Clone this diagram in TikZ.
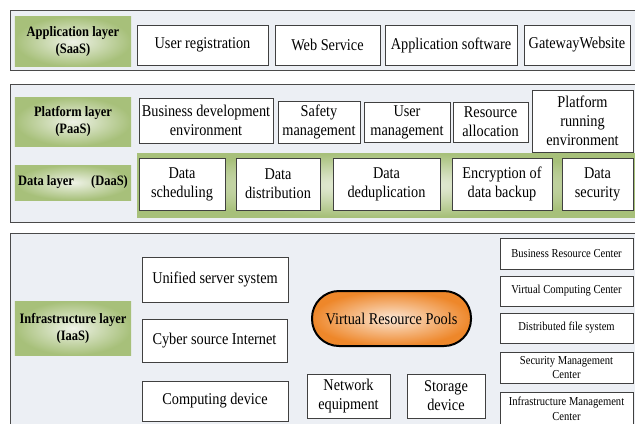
\documentclass[tikz,border=0pt]{standalone}
\usepackage{fontspec}
\setmainfont{Liberation Serif}[FakeStretch=0.87]
\usepackage{tikz}
\usetikzlibrary{positioning}

\definecolor{panelgray}{HTML}{ECEFF4}
\definecolor{framegray}{HTML}{4A4A4A}
\definecolor{layergreen}{HTML}{A7C07A}
\definecolor{layerlight}{HTML}{EEF2E6}
\definecolor{poolorange}{HTML}{EE872A}
\definecolor{poollight}{HTML}{FBE6D4}

\begin{document}
\begin{tikzpicture}[x=1bp,y=-1bp,
  panel/.style={draw=framegray,line width=1bp,fill=panelgray},
  layer/.style={inner sep=0pt,align=center,inner color=layerlight,outer color=layergreen,
    font=\fontsize{14.4}{17}\selectfont\bfseries},
  cell/.style={draw=black!75,line width=0.9bp,fill=white,inner sep=0pt,align=center,
    font=\fontsize{16.5}{19}\selectfont},
  hub/.style={cell,font=\fontsize{12.2}{15}\selectfont}]
\clip (0,0) rectangle (635,423);
\fill[white] (0,0) rectangle (635,423);

% application layer
\draw[panel] (10,10) rectangle (640,70);
\node[layer,minimum width=116bp,minimum height=50bp] (saas) at (73,41.5) {Application layer\\(SaaS)};
\node[cell,minimum width=131bp,minimum height=40bp] (ureg) at (202.5,45) {User registration};
\node[cell,minimum width=105bp,minimum height=40bp] (websrv) at (327.5,45) {Web Service};
\node[cell,minimum width=132bp,minimum height=40bp] (appsw) at (451,45) {Application software};
\node[cell,minimum width=106bp,minimum height=40bp] (gateway) at (577,45) {GatewayWebsite};

% platform and data layers
\draw[panel] (10,84) rectangle (640,222);
\node[layer,minimum width=116bp,minimum height=49bp] (paas) at (73,121.5) {Platform layer\\(PaaS)};
\node[cell,minimum width=134bp,minimum height=45bp] (bizdev) at (206,120.5) {Business development\\environment};
\node[cell,minimum width=82bp,minimum height=42bp] (safety) at (319,122) {Safety\\management};
\node[cell,minimum width=86bp,minimum height=40bp] (usermgmt) at (407,122) {User\\management};
\node[cell,minimum width=75bp,minimum height=40bp] (resalloc) at (490.5,122) {Resource\\allocation};
\node[cell,minimum width=101bp,minimum height=62bp] (platrun) at (582.5,121) {Platform\\running\\environment};

\shade[inner color=layerlight,outer color=layergreen] (137,153) rectangle (636,217);
\node[layer,minimum width=116bp,minimum height=35bp] (daas) at (73,182.5) {Data layer\hspace{1.2em}(DaaS)};
\node[cell,minimum width=86bp,minimum height=52bp] (dsched) at (182,184) {Data\\scheduling};
\node[cell,minimum width=84bp,minimum height=52bp] (ddist) at (278,184) {Data\\distribution};
\node[cell,minimum width=107bp,minimum height=52bp] (ddedup) at (386.5,184) {Data\\deduplication};
\node[cell,minimum width=100bp,minimum height=52bp] (dcrypt) at (502,184) {Encryption of\\data backup};
\node[cell,minimum width=71bp,minimum height=52bp] (dsecure) at (597.5,184) {Data\\security};

% infrastructure layer
\draw[panel] (10,233) rectangle (640,440);
\node[layer,minimum width=116bp,minimum height=54bp] (iaas) at (73,328) {Infrastructure layer\\(IaaS)};
\node[cell,minimum width=146bp,minimum height=45bp] (unified) at (215,279.5) {Unified server system};
\node[cell,minimum width=145bp,minimum height=43bp] (cyber) at (214.5,340.5) {Cyber source Internet};
\node[cell,minimum width=146bp,minimum height=40bp] (computing) at (215,401) {Computing device};
\node[cell,minimum width=83bp,minimum height=44bp] (network) at (348.5,396) {Network\\equipment};
\node[cell,minimum width=78bp,minimum height=44bp] (storage) at (446,396) {Storage\\device};
\node[draw=black,line width=2bp,rounded corners=27bp,inner sep=0pt,
  inner color=poollight,outer color=poolorange,
  minimum width=159bp,minimum height=55bp,font=\fontsize{16.5}{19}\selectfont] (pool) at (391.5,318.5) {Virtual Resource Pools};

\node[hub,minimum width=133bp,minimum height=31bp] (bizres) at (566.5,253.5) {Business Resource Center};
\node[hub,minimum width=133bp,minimum height=30bp] (vcomp) at (566.5,291) {Virtual Computing Center};
\node[hub,minimum width=133bp,minimum height=30bp] (dfs) at (566.5,328) {Distributed file system};
\node[hub,minimum width=133bp,minimum height=31bp] (secmgmt) at (566.5,367.5) {Security Management\\Center};
\node[hub,minimum width=133bp,minimum height=33bp] (infmgmt) at (566.5,408.5) {Infrastructure Management\\Center};
\end{tikzpicture}
\end{document}
